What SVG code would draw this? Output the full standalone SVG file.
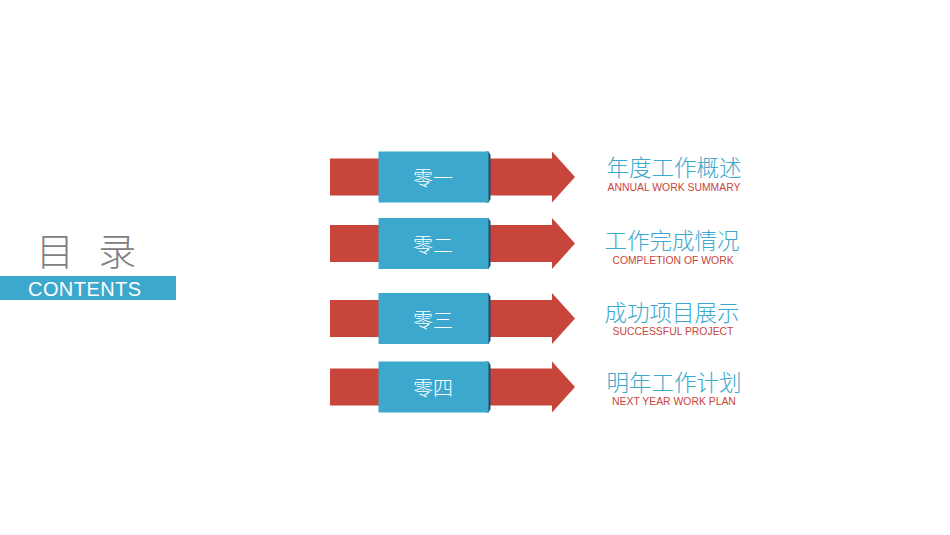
<svg xmlns="http://www.w3.org/2000/svg" width="950" height="535" viewBox="0 0 950 535">
<style>
.arrow{fill:#C8453C}
.box{fill:#3DA8CD}
.edge{fill:#1E4E63}
.num{font-family:"Noto Sans CJK SC","Noto Sans",sans-serif;font-size:20px;font-weight:300;fill:#FFFFFF;text-anchor:middle}
.title{font-family:"Noto Sans CJK SC","Noto Sans",sans-serif;font-size:22.5px;font-weight:300;fill:#3DA8CD;text-anchor:middle}
.sub{font-family:"Liberation Sans",Arial,sans-serif;font-size:10.4px;fill:#C8453C;text-anchor:middle}
</style>
<defs>
<g id="item">
<polygon class="arrow" points="330,-18.5 552,-18.5 552,-25.5 575,0 552,25.5 552,18.5 330,18.5"/>
<polygon class="edge" points="486,-25.5 488.5,-25.5 490.5,-22 490.5,22 488.5,25.5 486,25.5"/>
<rect class="box" x="378.5" y="-25.5" width="110" height="51"/>
</g>
</defs>
<rect width="950" height="535" fill="#FFFFFF"/>
<g id="heading">
<text x="54" y="265" font-family="Noto Sans CJK SC,sans-serif" font-size="38" font-weight="300" fill="#808080" text-anchor="middle"><tspan x="55">目</tspan><tspan x="113"> 录</tspan></text>
<rect x="0" y="276" width="176" height="24" fill="#3DA8CD"/>
<text x="28" y="296" font-family="Liberation Sans,Arial,sans-serif" font-size="20" fill="#FFFFFF" textLength="113">CONTENTS</text>
</g>
<g id="item1">
<use href="#item" transform="translate(0,177)"/>
<text class="num" x="433" y="186">零一</text>
<text class="title" x="674" y="176">年度工作概述</text>
<text class="sub" x="674" y="191">ANNUAL WORK SUMMARY</text>
</g>
<g id="item2">
<use href="#item" transform="translate(0,243.5)"/>
<text class="num" x="433" y="252.5">零二</text>
<text class="title" x="672" y="249">工作完成情况</text>
<text class="sub" x="673" y="263.5">COMPLETION OF WORK</text>
</g>
<g id="item3">
<use href="#item" transform="translate(0,318.5)"/>
<text class="num" x="433" y="327.5">零三</text>
<text class="title" x="672" y="320.5">成功项目展示</text>
<text class="sub" x="673" y="334.5">SUCCESSFUL PROJECT</text>
</g>
<g id="item4">
<use href="#item" transform="translate(0,387)"/>
<text class="num" x="433" y="396">零四</text>
<text class="title" x="674" y="390.5">明年工作计划</text>
<text class="sub" x="674" y="404.5">NEXT YEAR WORK PLAN</text>
</g>
<g id="connectors"></g>
</svg>
